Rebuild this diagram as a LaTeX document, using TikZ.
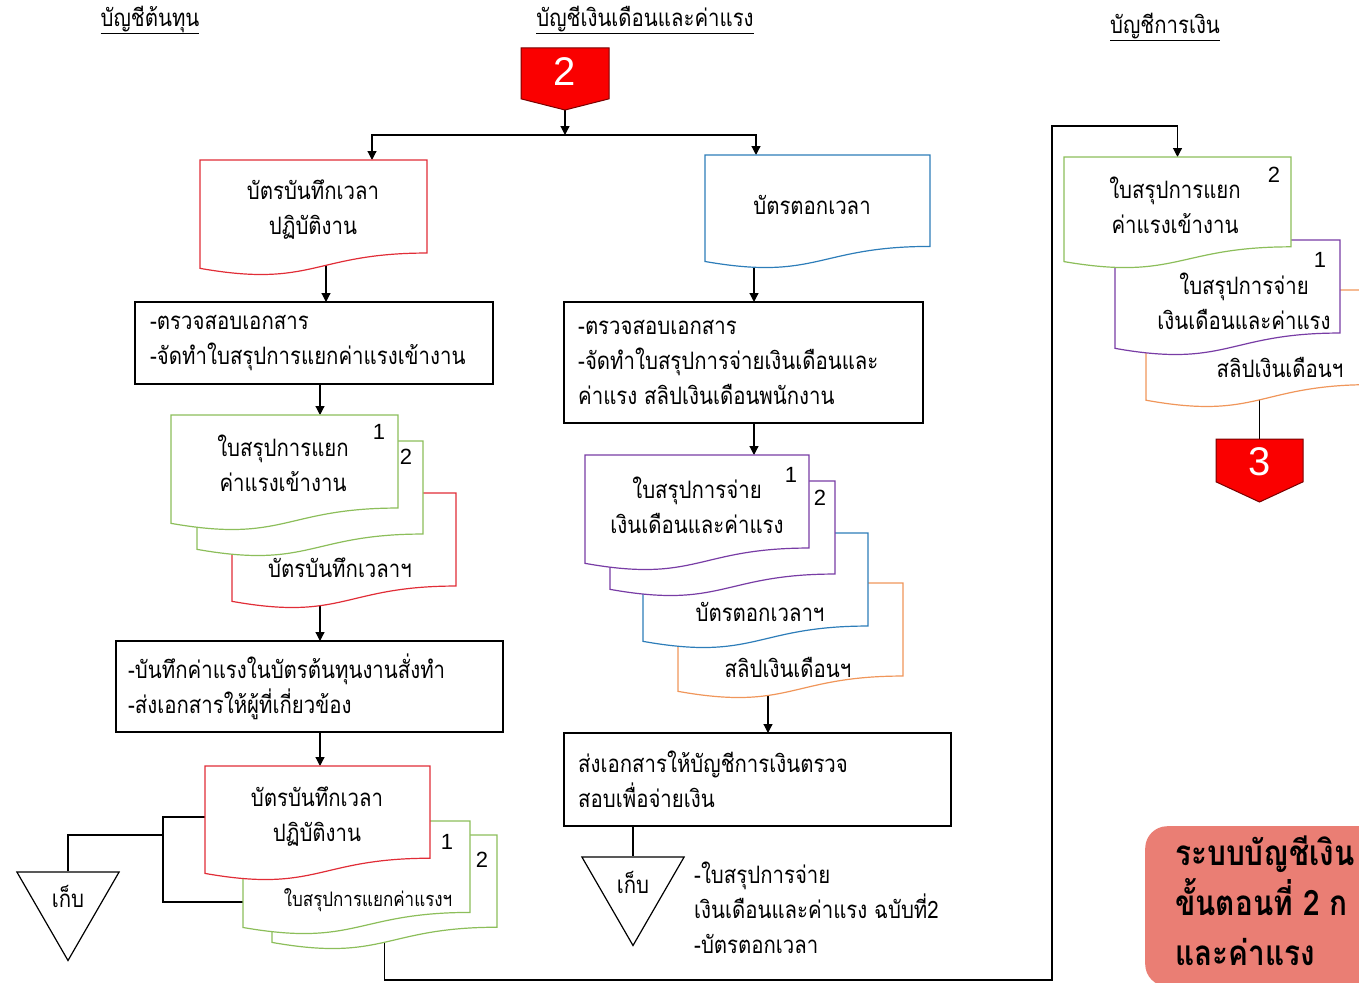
\documentclass[tikz,border=0pt]{standalone}
\usepackage{fontspec}
\setmainfont{Liberation Sans}
\newfontfamily\thai[Script=Thai,FakeStretch=0.85]{Loma}
\newcommand\thaitext{\thai\fontsize{24}{35}\selectfont}
\newcommand\thaismall{\thai\fontsize{20}{30}\selectfont}
\newcommand\thaibig{\thai\bfseries\fontsize{35}{50}\selectfont}
\usetikzlibrary{arrows.meta,calc,shapes.geometric}
\pgfdeclarelayer{bg}
\pgfsetlayers{bg,main}
\definecolor{cred}{RGB}{225,45,55}
\definecolor{cgreen}{RGB}{140,190,90}
\definecolor{cblue}{RGB}{45,125,185}
\definecolor{cpurple}{RGB}{120,60,165}
\definecolor{corange}{RGB}{240,150,90}
\definecolor{salmon}{RGB}{234,126,116}
\definecolor{kred}{RGB}{250,0,0}
\definecolor{kborder}{RGB}{120,0,0}
\newcommand\docshape[2]{\draw[docline,draw=#2] (#1.north west) -- (#1.north east) -- ($(#1.north east)!0.802!(#1.south east)$) .. controls ($(#1.north)!0.802!(#1.south)$) and ($(#1.north)!1.107!(#1.south)$) .. ($(#1.north west)!0.934!(#1.south west)$) -- cycle;}
\newcommand\docat[6]{\node[docn, minimum width=#4pt, minimum height=#5pt] (#1) at (#2,#3) {};\docshape{#1}{#6}}
\newcommand\offpage[2]{\draw[offline] (#1.north west) -- (#1.north east) -- ($(#1.north east)!#2!(#1.south east)$) -- (#1.south) -- ($(#1.north west)!#2!(#1.south west)$) -- cycle;}
\begin{document}
\begin{tikzpicture}[x=1pt,y=-1pt,
  docline/.style={line width=1.2pt, fill=white},
  docn/.style={inner sep=0pt, outer sep=0pt, anchor=north west},
  tx/.style={font=\thaitext, align=center, inner sep=0pt},
  ptx/.style={font=\thaitext, align=left, inner sep=0pt, anchor=west},
  hdr/.style={font=\thaitext, inner sep=0pt},
  num/.style={font=\fontsize{22}{22}\selectfont, inner sep=0pt},
  kn/.style={inner sep=0pt, outer sep=0pt, anchor=north west},
  offline/.style={draw=kborder, fill=kred, line width=1pt},
  knum/.style={font=\fontsize{40}{40}\selectfont, text=white, inner sep=0pt},
  pbox/.style={draw, line width=1.4pt, fill=white, inner sep=0pt, outer sep=0pt, anchor=north west},
  store/.style={regular polygon, regular polygon sides=3, shape border rotate=180, draw, line width=1.2pt, minimum size=118pt, inner sep=0pt, fill=white, font=\thaitext},
  rbox/.style={fill=salmon, rounded corners=22pt, inner sep=0pt, anchor=north west},
  rtx/.style={font=\thaibig, align=left, inner sep=0pt, anchor=north west},
  arr/.style={line width=1.2pt, -{Triangle[length=9pt,width=9pt]}},
  conn/.style={line width=1.2pt}]
\useasboundingbox (0,0) rectangle (1359,982);
\clip (0,0) rectangle (1359,982);
% headers
\node[hdr] (H1) at (150,20) {\underline{บัญชีต้นทุน}};
\node[hdr] (H2) at (645,20) {\underline{บัญชีเงินเดือนและค่าแรง}};
\node[hdr] (H3) at (1165,27) {\underline{บัญชีการเงิน}};
% connector 2
\node[kn, minimum width=88pt, minimum height=62pt] (K2) at (521,48) {};
\offpage{K2}{0.82}
\node[knum] (K2t) at (565,72) {2};
% top docs
\docat{A}{200}{160}{227}{116}{cred}
\node[tx] (At) at (313,210) {บัตรบันทึกเวลา\\ปฏิบัติงาน};
\docat{B}{705}{155}{225}{114}{cblue}
\node[tx] (Bt) at (812,205) {บัตรตอกเวลา};
% process boxes
\node[pbox, minimum width=358pt, minimum height=82pt] (P1) at (135,302) {};
\node[ptx] (P1t) at ([xshift=15pt]P1.west) {-ตรวจสอบเอกสาร\\-จัดทำใบสรุปการแยกค่าแรงเข้างาน};
\node[pbox, minimum width=359pt, minimum height=121pt] (P2) at (564,302) {};
\node[ptx] (P2t) at ([xshift=14pt]P2.west) {-ตรวจสอบเอกสาร\\-จัดทำใบสรุปการจ่ายเงินเดือนและ\\ค่าแรง สลิปเงินเดือนพนักงาน};
% left stack
\docat{C3}{232}{493}{224}{116}{cred}
\docat{C2}{197}{441}{226}{116}{cgreen}
\docat{C1}{171}{415}{227}{116}{cgreen}
\node[tx] (C1t) at (283,463) {ใบสรุปการแยก\\ค่าแรงเข้างาน};
\node[num] (C1n) at (379,432) {1};
\node[num] (C2n) at (406,457) {2};
\node[tx] (C3t) at (340,568) {บัตรบันทึกเวลาฯ};
% middle stack
\docat{D4}{678}{583}{225}{116}{corange}
\docat{D3}{643}{533}{225}{116}{cblue}
\docat{D2}{610}{481}{225}{116}{cpurple}
\docat{D1}{585}{455}{224}{116}{cpurple}
\node[tx] (D1t) at (697,505) {ใบสรุปการจ่าย\\เงินเดือนและค่าแรง};
\node[num] (D1n) at (791,475) {1};
\node[num] (D2n) at (820,498) {2};
\node[tx] (D3t) at (760,612) {บัตรตอกเวลาฯ};
\node[tx] (D4t) at (788,667) {สลิปเงินเดือนฯ};
% box 3
\node[pbox, minimum width=387pt, minimum height=91pt] (P3) at (116,641) {};
\node[ptx] (P3t) at ([xshift=12pt]P3.west) {-บันทึกค่าแรงในบัตรต้นทุนงานสั่งทำ\\-ส่งเอกสารให้ผู้ที่เกี่ยวข้อง};
% bottom-left stack
\docat{E3}{272}{835}{225}{115}{cgreen}
\docat{E2}{243}{821}{227}{114}{cgreen}
\docat{E1}{205}{766}{225}{115}{cred}
\node[tx] (E1t) at (317,817) {บัตรบันทึกเวลา\\ปฏิบัติงาน};
\node[num] (E2n) at (447,842) {1};
\node[num] (E3n) at (482,860) {2};
\node[tx, font=\thaismall] (E2t) at (368,900) {ใบสรุปการแยกค่าแรงฯ};
\node[store] (T1) at (68,901.5) {\raisebox{10pt}{เก็บ}};
% box 4
\node[pbox, minimum width=387pt, minimum height=93pt] (P4) at (564,733) {};
\node[ptx] (P4t) at ([xshift=14pt]P4.west) {ส่งเอกสารให้บัญชีการเงินตรวจ\\สอบเพื่อจ่ายเงิน};
\node[store] (T2) at (633,886.5) {\raisebox{8pt}{เก็บ}};
\node[ptx] (T2t) at (694,908) {-ใบสรุปการจ่าย\\เงินเดือนและค่าแรง ฉบับที่2\\-บัตรตอกเวลา};
% right stack
\docat{F3}{1146}{290}{225}{118}{corange}
\docat{F2}{1115}{240}{225}{116}{cpurple}
\docat{F1}{1064}{157}{227}{112}{cgreen}
\node[tx] (F1t) at (1175,205) {ใบสรุปการแยก\\ค่าแรงเข้างาน};
\node[num] (F1n) at (1274,175) {2};
\node[tx] (F2t) at (1244,301) {ใบสรุปการจ่าย\\เงินเดือนและค่าแรง};
\node[num] (F2n) at (1320,260) {1};
\node[tx] (F3t) at (1280,367) {สลิปเงินเดือนฯ};
% connector 3
\node[kn, minimum width=87pt, minimum height=63pt] (K3) at (1216,439) {};
\offpage{K3}{0.68}
\node[knum] (K3t) at (1260,462) {3};
% note box
\node[rbox, minimum width=260pt, minimum height=160pt] (R) at (1145,826) {};
\node[rtx] (Rt) at (1175,836) {ระบบบัญชีเงิน\\ขั้นตอนที่ 2 ก\\และค่าแรง};
% connectors
\begin{pgfonlayer}{bg}
\coordinate (J) at (565,135);
\draw[arr] (K2.south) -- (J);
\coordinate (JA) at ([xshift=58.5pt]A.north);
\coordinate (JB) at ([xshift=-61.5pt]B.north);
\draw[arr] (J) -| (JA);
\draw[arr] (J) -| (JB);
\coordinate (a1) at ([xshift=12.5pt]A.center);
\draw[arr] (a1) -- (a1 |- P1.north);
\coordinate (b1) at ([xshift=-63.5pt]B.center);
\draw[arr] (b1) -- (b1 |- P2.north);
\coordinate (p1) at ([xshift=6pt]P1.south);
\draw[arr] (p1) -- (p1 |- C1.north);
\coordinate (p3n) at ([xshift=10.5pt]P3.north);
\draw[arr] (p3n |- C3.center) -- (p3n);
\coordinate (p3s) at ([xshift=10.5pt]P3.south);
\draw[arr] (p3s) -- (p3s |- E1.north);
\coordinate (p2s) at ([xshift=10.5pt]P2.south);
\draw[arr] (p2s) -- (p2s |- D1.north);
\coordinate (p4n) at ([xshift=10.5pt]P4.north);
\draw[arr] (p4n |- D4.center) -- (p4n);
\draw[conn] (T2.north |- P4.south) -- (T2.north);
\coordinate (BK) at (163,835);
\coordinate (Y1) at (0,817);
\coordinate (Y2) at (0,902);
\draw[conn] (E1.west |- Y1) -| (BK);
\draw[conn] (E2.west |- Y2) -| (BK);
\draw[conn] (BK) -| (T1.north);
\coordinate (R1) at (1052,980);
\coordinate (R2) at (1052,126);
\draw[arr] (E3.center) |- (R1) -- (R2) -| (F1.north);
\draw[conn] (K3.north |- F3.center) -- (K3.north);
\end{pgfonlayer}
\end{tikzpicture}
\end{document}
